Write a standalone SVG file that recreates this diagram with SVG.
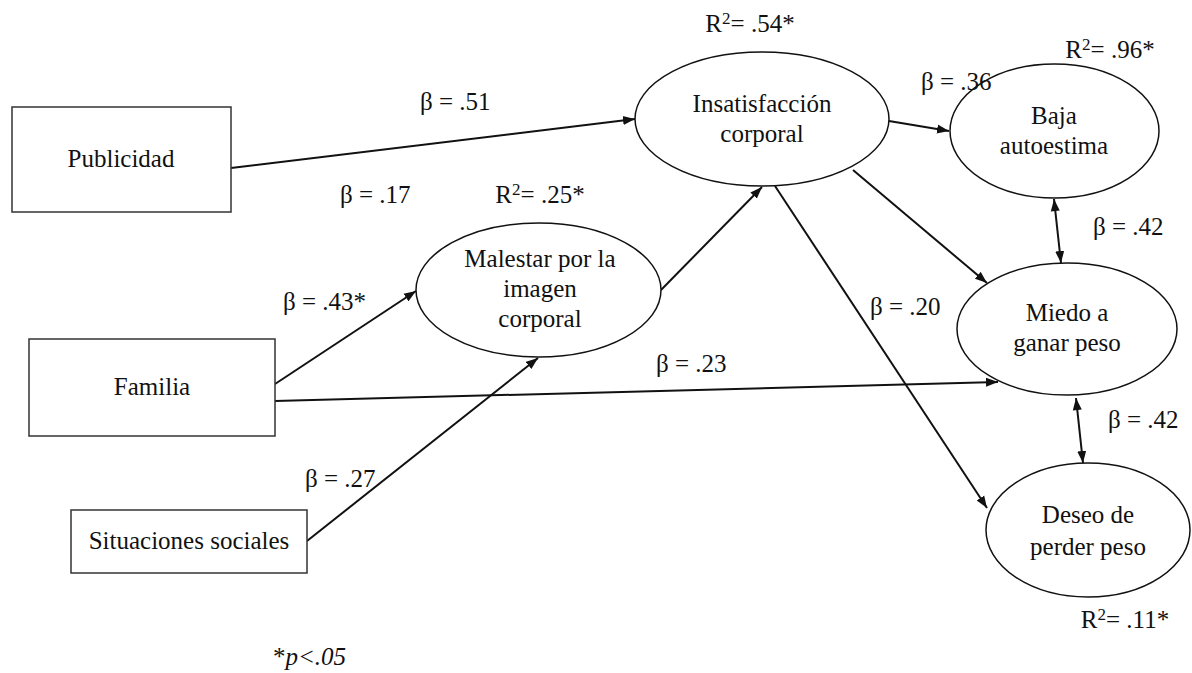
<svg xmlns="http://www.w3.org/2000/svg" width="1192" height="673" viewBox="0 0 1192 673">
<style>
text{font-family:"Liberation Serif","Times New Roman",serif;font-size:25px;fill:#111}
.c{text-anchor:middle}
.box{fill:#fff;stroke:#333;stroke-width:1.5}
.ell{fill:#fff;stroke:#111;stroke-width:1.5}
.ln{stroke:#111;stroke-width:2;fill:none}
.sup{font-size:17px}
</style>
<defs>
<marker id="ah" markerUnits="userSpaceOnUse" markerWidth="14" markerHeight="10" refX="12" refY="5" orient="auto">
<path d="M0,0.5 L12,5 L0,9.5 Z" fill="#111"/>
</marker>
<marker id="as" markerUnits="userSpaceOnUse" markerWidth="14" markerHeight="10" refX="0" refY="5" orient="auto">
<path d="M12,0.5 L0,5 L12,9.5 Z" fill="#111"/>
</marker>
</defs>
<g id="connectors">
<line class="ln" x1="231" y1="168" x2="635" y2="119" marker-end="url(#ah)"/>
<line class="ln" x1="275" y1="384" x2="416" y2="291" marker-end="url(#ah)"/>
<line class="ln" x1="307" y1="541" x2="538" y2="358" marker-end="url(#ah)"/>
<line class="ln" x1="661" y1="290" x2="762" y2="187" marker-end="url(#ah)"/>
<line class="ln" x1="275" y1="401" x2="998" y2="382" marker-end="url(#ah)"/>
<line class="ln" x1="889" y1="121" x2="949" y2="131" marker-end="url(#ah)"/>
<line class="ln" x1="853" y1="170" x2="987" y2="283" marker-end="url(#ah)"/>
<line class="ln" x1="775" y1="186" x2="987" y2="508" marker-end="url(#ah)"/>
<line class="ln" x1="1054" y1="199" x2="1061" y2="263" marker-start="url(#as)" marker-end="url(#ah)"/>
<line class="ln" x1="1076" y1="398" x2="1083" y2="463" marker-start="url(#as)" marker-end="url(#ah)"/>
</g>
<g id="publicidad">
<rect class="box" x="12" y="107" width="219" height="105"/>
<text class="c" x="121" y="167">Publicidad</text>
</g>
<g id="familia">
<rect class="box" x="29" y="339" width="246" height="97"/>
<text class="c" x="152" y="395">Familia</text>
</g>
<g id="situaciones">
<rect class="box" x="71" y="510" width="236" height="63"/>
<text class="c" x="189" y="549">Situaciones sociales</text>
</g>
<g id="malestar">
<ellipse class="ell" cx="538.5" cy="290" rx="122.5" ry="67"/>
<text class="c" x="540" y="267">Malestar por la</text>
<text class="c" x="540" y="297">imagen</text>
<text class="c" x="540" y="327">corporal</text>
</g>
<g id="insatisfaccion">
<ellipse class="ell" cx="762" cy="119" rx="127" ry="67"/>
<text class="c" x="762" y="112">Insatisfacción</text>
<text class="c" x="762" y="142">corporal</text>
</g>
<g id="baja">
<ellipse class="ell" cx="1054.5" cy="131" rx="104.5" ry="67"/>
<text class="c" x="1054" y="124">Baja</text>
<text class="c" x="1054" y="154">autoestima</text>
</g>
<g id="miedo">
<ellipse class="ell" cx="1067" cy="329" rx="110" ry="66"/>
<text class="c" x="1067" y="321">Miedo a</text>
<text class="c" x="1067" y="351">ganar peso</text>
</g>
<g id="deseo">
<ellipse class="ell" cx="1088" cy="530" rx="102" ry="67"/>
<text class="c" x="1088" y="523">Deseo de</text>
<text class="c" x="1088" y="555">perder peso</text>
</g>
<g id="labels">
<text class="c" x="750" y="32">R<tspan class="sup" dy="-8">2</tspan><tspan dy="8">= .54*</tspan></text>
<text class="c" x="1110" y="58">R<tspan class="sup" dy="-8">2</tspan><tspan dy="8">= .96*</tspan></text>
<text class="c" x="540" y="203">R<tspan class="sup" dy="-8">2</tspan><tspan dy="8">= .25*</tspan></text>
<text class="c" x="1125" y="628">R<tspan class="sup" dy="-8">2</tspan><tspan dy="8">= .11*</tspan></text>
<text x="420" y="110">β = .51</text>
<text x="340" y="203">β = .17</text>
<text x="283" y="310">β = .43*</text>
<text x="656" y="372">β = .23</text>
<text x="305" y="487">β = .27</text>
<text x="870" y="315">β = .20</text>
<text x="921" y="90">β = .36</text>
<text x="1093" y="235">β = .42</text>
<text x="1108" y="428">β = .42</text>
<text x="273" y="665">*<tspan font-style="italic">p&lt;.05</tspan></text>
</g>
</svg>
